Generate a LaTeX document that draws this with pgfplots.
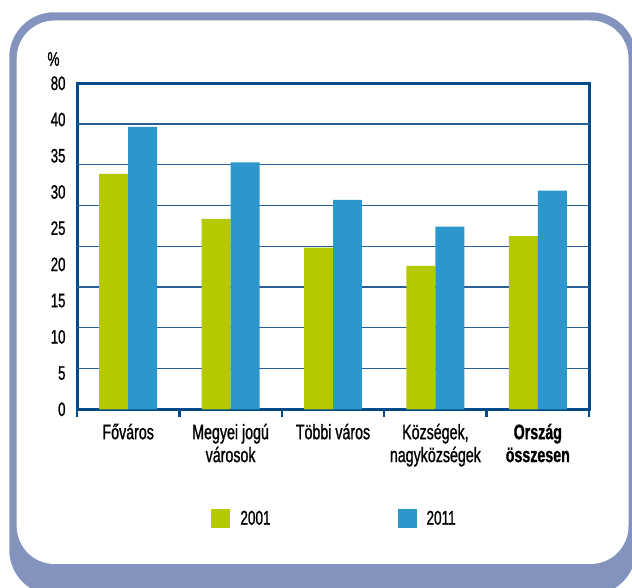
\documentclass[border=0pt]{standalone}
\usepackage{pgfplots}
\pgfplotsset{compat=1.18}
\usepackage{fontspec}
\setmainfont{Liberation Sans}[FakeStretch=0.68, FakeBold=1]
\definecolor{frameblue}{HTML}{8393BE}
\definecolor{axisblue}{HTML}{004A8C}
\definecolor{gridblue}{HTML}{2A5F97}
\definecolor{barA}{HTML}{B5C900}
\definecolor{barB}{HTML}{2C97CA}
\begin{document}
\begin{tikzpicture}[x=1bp,y=1bp]
\useasboundingbox (0,0) rectangle (632,588);
\begin{scope}
\clip (0,0) rectangle (632,588);
\fill[frameblue, rounded corners=45bp] (9.3,-7) rectangle (636,575.7);
\fill[white, rounded corners=38bp] (16.7,24) rectangle (628.5,567.5);
\node[font=\fontsize{20}{22}\selectfont] at (53.5,529) {\%};
\begin{axis}[
  at={(77bp,178.7bp)}, anchor=south west,
  width=512bp, height=326bp, scale only axis,
  xmin=0, xmax=5, ymin=0, ymax=45,
  axis line style={draw=axisblue, line width=3bp},
  xtick={0.5,1.5,2.5,3.5,4.5},
  xticklabels={Főváros, Megyei jogú\\városok, Többi város, {Községek,\\nagyközségek}, \textbf{Ország}\\\textbf{összesen}},
  minor xtick={0,1,2,3,4,5},
  major tick length=0pt, minor tick length=8bp,
  tick align=outside, xtick pos=bottom, ytick pos=left,
  minor tick style={draw=axisblue, line width=2.5bp},
  ytick={0,5,10,15,20,25,30,35,40,45},
  yticklabels={0,5,10,15,20,25,30,35,40,80},
  extra y ticks={5.625,11.25,16.875,22.5,28.125,33.75,39.375},
  extra y tick labels={},
  extra y tick style={grid=major, major grid style={draw=gridblue, line width=1.3bp}},
  /pgf/number format/assume math mode=true,
  yticklabel style={font=\fontsize{19.5}{20}\selectfont, anchor=east, xshift=-8bp},
  xticklabel style={font=\fontsize{21}{23}\selectfont, align=center, anchor=north, yshift=-11bp},
  legend style={at={(0.503,-0.335)}, anchor=center, draw=none, fill=none, legend columns=2,
    font=\fontsize{20}{21}\selectfont,
    /tikz/every odd column/.append style={column sep=8bp},
    /tikz/every even column/.append style={column sep=125bp}},
  legend image code/.code={\fill[#1,draw=none] (0bp,-9.5bp) rectangle (19bp,9.5bp);},
  clip=false
]
\addplot[ybar, bar width=0.283, bar shift=-0.1415, fill=barA, draw=none]
  coordinates {(0.5,32.5) (1.5,26.3) (2.5,22.3) (3.5,19.8) (4.5,23.9)};
\addplot[ybar, bar width=0.283, bar shift=0.1415, fill=barB, draw=none]
  coordinates {(0.5,39.0) (1.5,34.1) (2.5,28.9) (3.5,25.2) (4.5,30.2)};
\legend{2001,2011}
\end{axis}
\end{scope}
\end{tikzpicture}
\end{document}
